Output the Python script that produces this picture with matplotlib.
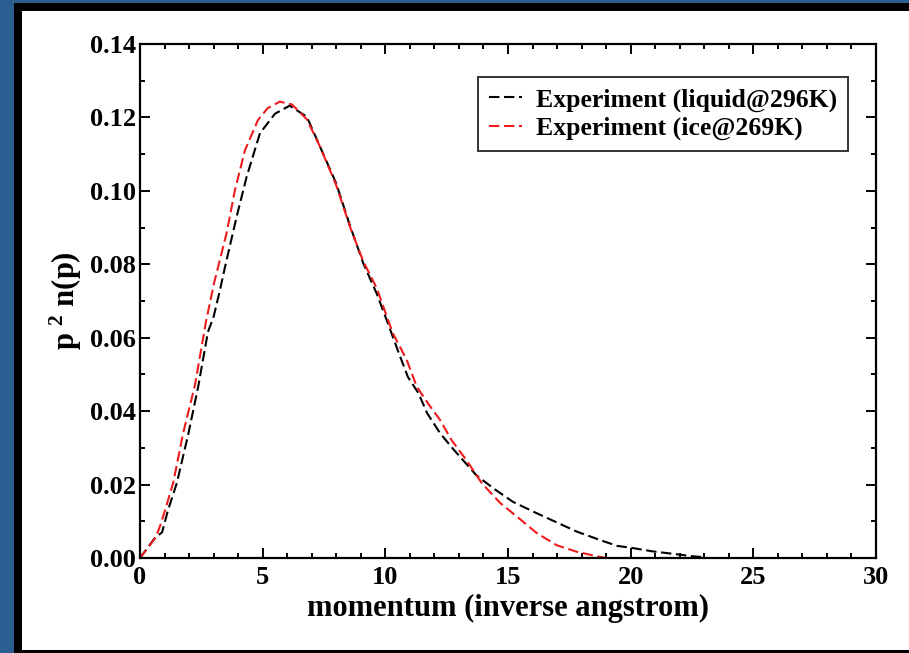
import matplotlib
matplotlib.use("Agg")
import matplotlib.pyplot as plt
from matplotlib.patches import Rectangle

# momentum distributions, p^2 n(p) vs p (inverse angstrom)
p_liquid = [0, 0.6, 0.9, 1.14, 1.5, 1.96, 2.37, 2.77, 3.0, 3.26, 3.47, 3.94,
            4.35, 4.89, 5.5, 6.1, 6.8, 7.34, 8.0, 8.56, 9.1, 9.65, 10.1, 10.5,
            10.92, 11.35, 11.7, 12.23, 12.75, 13.7, 14.4, 15.2, 16.17, 17.05,
            17.8, 18.75, 19.45, 20.0, 20.9, 21.9, 22.5, 23.0]
n_liquid = [0, 0.0054, 0.007, 0.013, 0.0204, 0.0335, 0.0466, 0.0616, 0.0657,
            0.073, 0.0794, 0.093, 0.1039, 0.1157, 0.121, 0.1232, 0.1202, 0.112,
            0.102, 0.0905, 0.0803, 0.072, 0.064, 0.0567, 0.0493, 0.0449, 0.0395,
            0.034, 0.0298, 0.0226, 0.019, 0.0153, 0.0122, 0.0095, 0.0072,
            0.0049, 0.0033, 0.0028, 0.0018, 0.0010, 0.0005, 0.0002]

p_ice = [0, 0.65, 0.86, 1.02, 1.35, 1.76, 2.24, 2.69, 3.02, 3.53, 3.87, 4.28,
         4.81, 5.2, 5.7, 6.2, 6.8, 7.34, 8.0, 8.56, 9.1, 9.65, 10.3, 10.87,
         11.28, 11.75, 12.23, 12.7, 13.3, 13.93, 14.68, 15.36, 16.17, 16.98,
         17.8, 18.6, 19.0]
n_ice = [0, 0.0057, 0.0095, 0.013, 0.0204, 0.034, 0.0471, 0.0644, 0.0749,
         0.0885, 0.1002, 0.1111, 0.1193, 0.1225, 0.1243, 0.1235, 0.1195, 0.112,
         0.1015, 0.0902, 0.0808, 0.0735, 0.0613, 0.054, 0.0467, 0.0420, 0.0376,
         0.0321, 0.0267, 0.0204, 0.015, 0.0113, 0.0068, 0.0035, 0.0017, 0.0005,
         0.0]

labels = ["Experiment (liquid@296K)", "Experiment (ice@269K)"]

plt.rcParams["font.family"] = ["Liberation Serif", "DejaVu Serif"]
plt.rcParams["font.weight"] = "bold"
plt.rcParams["mathtext.default"] = "regular"

W, H = 909, 653
fig = plt.figure(figsize=(W / 100, H / 100), dpi=100)
fig.patch.set_facecolor("#2c5e91")
# black edge and white page inside the blue border
fig.add_artist(Rectangle((14 / W, 0), 1, 1 - 3 / H, transform=fig.transFigure,
                         facecolor="black", edgecolor="none", zorder=-2))
fig.add_artist(Rectangle((22 / W, 3 / H), 1, 1 - 14 / H, transform=fig.transFigure,
                         facecolor="white", edgecolor="none", zorder=-1))

ax = fig.add_axes([140 / W, 1 - 558 / H, 736 / W, 514 / H])
ax.set_facecolor("white")

ax.plot(p_liquid, n_liquid, color="black", lw=1.5, dashes=(5, 2.2),
        label=labels[0])
ax.plot(p_ice, n_ice, color="#ee1c1c", lw=1.5, dashes=(5, 2.2),
        label=labels[1])

ax.set_xlim(0, 30)
ax.set_ylim(0, 0.14)
ax.set_xticks(range(0, 31, 5))
ax.set_xticks(range(0, 31), minor=True)
ax.set_yticks([i * 0.02 for i in range(8)])
ax.set_yticks([i * 0.01 for i in range(15)], minor=True)
ax.set_yticklabels([f"{i * 0.02:.2f}" for i in range(8)])

for s in ax.spines.values():
    s.set_linewidth(1.6)
ax.tick_params(which="both", direction="in", top=True, right=True,
               width=1.4, labelsize=19)
ax.tick_params(which="major", length=7.5, pad=3)
ax.tick_params(axis="x", which="major", pad=6)
ax.tick_params(which="minor", length=3.8)

ax.set_xlabel("momentum (inverse angstrom)", fontsize=22, fontweight="bold",
              labelpad=3)
ax.set_ylabel(r"p $^{\mathregular{2}}$ n(p)", fontsize=22, fontweight="bold",
              labelpad=4)

leg = ax.legend(loc="upper right", bbox_to_anchor=(0.962, 0.935),
                fontsize=18.5, frameon=True, fancybox=False,
                handlelength=1.3, handletextpad=0.55, borderpad=0.42,
                labelspacing=0.2, borderaxespad=0)
leg.get_frame().set_edgecolor("black")
leg.get_frame().set_linewidth(1.4)

fig.savefig("out.png", dpi=100, facecolor=fig.get_facecolor())
